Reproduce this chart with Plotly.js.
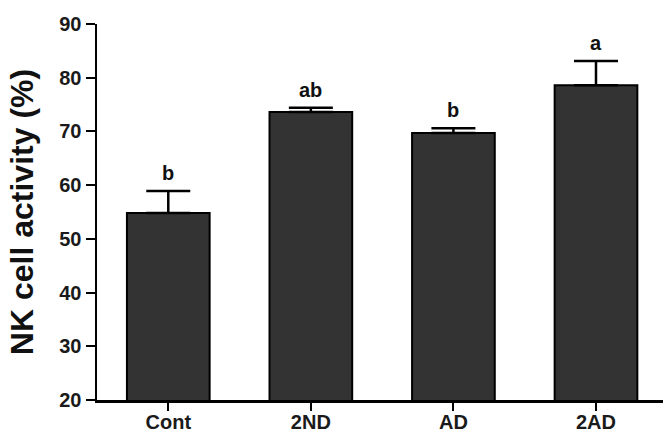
<!DOCTYPE html>
<html><head><meta charset="utf-8">
<script src="https://cdn.plot.ly/plotly-3.0.1.min.js"></script>
<style>html,body{margin:0;padding:0;background:#fff;}#chart{width:668px;height:436px;}</style>
</head><body><div id="chart"></div>
<script>
const categories = ["Cont", "2ND", "AD", "2AD"];
const values = [54.8, 73.6, 69.7, 78.6];
const errors = [4.1, 0.8, 0.9, 4.5];
const letters = ["b", "ab", "b", "a"];
const yTicks = [20, 30, 40, 50, 60, 70, 80, 90];

const FONT = "Liberation Sans, Arial, sans-serif";

const trace = {
  type: "bar",
  x: categories,
  y: values,
  width: 0.58,
  marker: {color: "#333333", line: {color: "#000000", width: 2}},
  error_y: {type: "data", symmetric: false, array: errors, arrayminus: errors.map(() => 0),
            color: "#000000", thickness: 2.5, width: 22},
  hoverinfo: "none"
};

const annotations = categories.map((c, i) => ({
  x: c, y: values[i] + errors[i], yref: "y", xref: "x",
  text: letters[i], showarrow: false, yanchor: "bottom", yshift: 5,
  font: {family: FONT, size: 20, color: "#111111", weight: "bold"}
}));

const layout = {
  width: 668, height: 436,
  margin: {l: 97, r: 5, t: 24, b: 36},
  paper_bgcolor: "#ffffff", plot_bgcolor: "#ffffff",
  showlegend: false,
  font: {family: FONT, color: "#000000"},
  xaxis: {
    type: "category", range: [-0.5, 3.47],
    showline: true, linecolor: "#000000", linewidth: 2.5,
    ticks: "outside", ticklen: 8, tickwidth: 2, tickcolor: "#000000",
    ticklabelstandoff: -6,
    showgrid: false, zeroline: false,
    tickfont: {size: 20, weight: "bold", family: FONT, color: "#1a1a1a"}
  },
  yaxis: {
    range: [20, 90], tickvals: yTicks, ticktext: yTicks.map(String),
    showline: true, linecolor: "#000000", linewidth: 2.5,
    ticks: "outside", ticklen: 9, tickwidth: 2, tickcolor: "#000000",
    showgrid: false, zeroline: false,
    tickfont: {size: 20, weight: "bold", family: FONT, color: "#1a1a1a"},
    title: {text: "NK cell activity (%)", standoff: 16,
            font: {size: 32, weight: "bold", family: FONT, color: "#111111"}}
  },
  annotations: annotations
};

Plotly.newPlot("chart", [trace], layout, {displayModeBar: false, staticPlot: true});
</script></body></html>
